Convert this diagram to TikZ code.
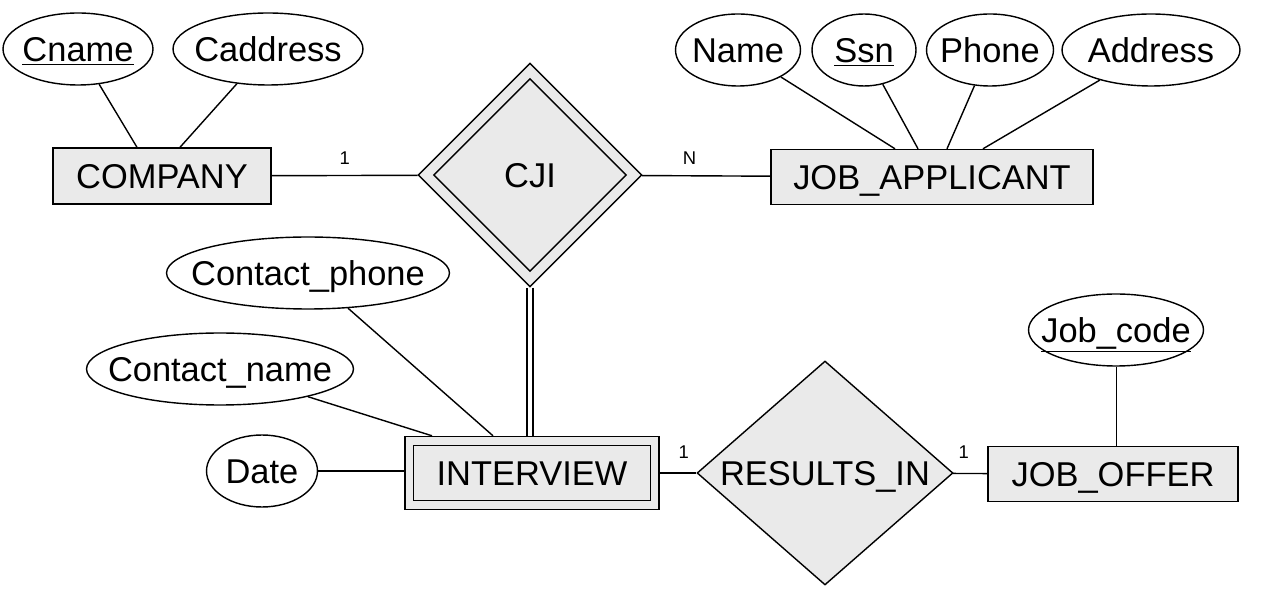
\documentclass[tikz,border=0pt]{standalone}
\usepackage{fontspec}
\setmainfont{Liberation Sans}
\usetikzlibrary{shapes.geometric}
\definecolor{erfill}{RGB}{234,234,234}
\begin{document}
\begin{tikzpicture}[x=0.02cm,y=-0.02cm,line width=0.8pt]
\tikzstyle{ent}=[rectangle, draw, fill=erfill, inner sep=0pt, text height=14pt, text depth=0pt, font=\fontsize{19.6}{23}\selectfont]
\tikzstyle{att}=[ellipse, draw, fill=white, inner xsep=-0.6cm, inner ysep=0pt, minimum height=1.44cm, text height=14pt, text depth=0pt, font=\fontsize{19.6}{23}\selectfont]
\tikzstyle{rel}=[diamond, draw, fill=erfill, inner sep=0pt, text height=14pt, text depth=0pt, font=\fontsize{19.6}{23}\selectfont]
\tikzstyle{card}=[inner sep=1pt, font=\fontsize{10.5}{12}\selectfont]
\useasboundingbox (0,0) rectangle (1264,597);
% entities
\node[ent, minimum width=4.36cm, minimum height=1.12cm] (company) at (162,176) {COMPANY};
\node[ent, minimum width=6.44cm, minimum height=1.1cm] (applicant) at (932,177) {JOB\_APPLICANT};
\node[ent, minimum width=5.08cm, minimum height=1.46cm] (interviewout) at (532,473) {};
\node[ent, minimum width=4.74cm, minimum height=1.1cm] (interview) at (532,473) {INTERVIEW};
\node[ent, minimum width=5cm, minimum height=1.1cm] (joboffer) at (1113,474) {JOB\_OFFER};
% relationships
\node[rel, minimum width=4.48cm, minimum height=4.48cm] (cji) at (530,175) {};
\node[rel, minimum width=3.86cm, minimum height=3.86cm] (cjiin) at (cji) {CJI};
\node[rel, aspect=1.14, minimum width=5.12cm, minimum height=4.48cm] (results) at (825,473) {RESULTS\_IN};
% attributes
\node[att, minimum width=3cm] (cname) at (78,49) {\underline{Cname}};
\node[att, minimum width=3.8cm] (caddress) at (268,49) {Caddress};
\node[att, minimum width=2.5cm] (name) at (738,50) {Name};
\node[att, minimum width=2.08cm] (ssn) at (864,50) {\underline{Ssn}};
\node[att, minimum width=2.54cm] (phone) at (990,50) {Phone};
\node[att, minimum width=3.56cm] (address) at (1151,50) {Address};
\node[att, minimum width=5.66cm] (contactphone) at (308,273) {Contact\_phone};
\node[att, minimum width=5.34cm] (contactname) at (220,369) {Contact\_name};
\node[att, minimum width=2.22cm] (date) at (262,471) {Date};
\node[att, minimum width=3.5cm] (jobcode) at (1116,330) {\underline{Job\_code}};
% attribute links
\draw (cname) -- ([xshift=-0.5cm]company.north);
\draw (caddress) -- ([xshift=0.36cm]company.north);
\draw (name) -- ([xshift=-0.74cm]applicant.north);
\draw (ssn) -- ([xshift=-0.28cm]applicant.north);
\draw (phone) -- ([xshift=0.3cm]applicant.north);
\draw (address) -- ([xshift=1.02cm]applicant.north);
\draw (contactphone) -- ([xshift=-0.78cm]interviewout.north);
\draw (contactname) -- ([xshift=-2cm]interviewout.north);
\draw (date.east) -- (date.east -| interviewout.west);
\draw[line width=0.5pt] (jobcode) -- (jobcode |- joboffer.north);
% relationship links
\draw (company) -- node[card, pos=0.5, above=5pt] {1} (cji);
\draw (cji) -- node[card, pos=0.37, above=5pt] {N} (applicant);
\draw[double, double distance=2.5pt] (cji.south) -- (cji.south |- interviewout.north);
\draw (interviewout) -- node[card, pos=0.66, above=7pt] {1} (results);
\draw (results) -- node[card, pos=0.31, above=7pt] {1} (joboffer);
\end{tikzpicture}
\end{document}
